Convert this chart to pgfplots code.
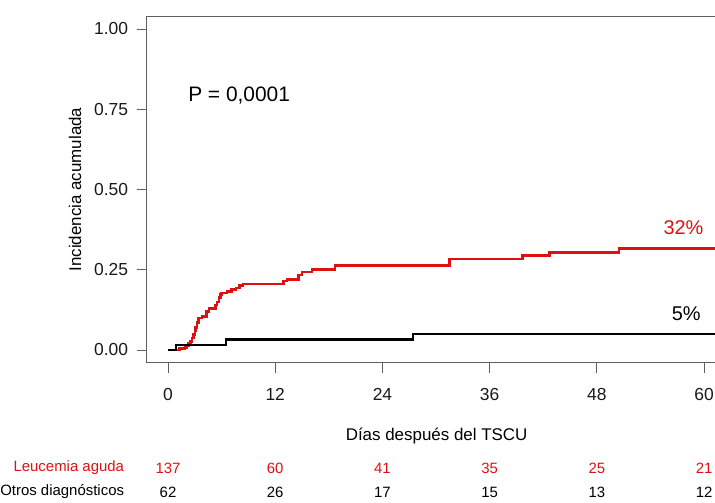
\documentclass[border=0pt]{standalone}
\usepackage{fontspec}
\setmainfont{Liberation Sans}
\usepackage{pgfplots}
\pgfplotsset{compat=1.18}
\usetikzlibrary{calc}

\definecolor{kmred}{RGB}{221,17,17}
\definecolor{boxgray}{RGB}{95,95,95}
\newcommand{\fs}[1]{\fontsize{#1}{#1}\selectfont}

\begin{document}
\begin{tikzpicture}
\begin{axis}[
    name=ax,
    scale only axis,
    width=578.9bp, height=346.7bp,
    xmin=-2.4, xmax=62.4,
    ymin=-0.04, ymax=1.04,
    xtick={0,12,24,36,48,60},
    xticklabels={0,12,24,36,48,60},
    ytick={0,0.25,0.5,0.75,1},
    yticklabels={0.00,0.25,0.50,0.75,1.00},
    xtick pos=left, ytick pos=left,
    tick align=outside,
    major tick length=10bp,
    axis line style={boxgray, line width=0.8bp},
    tick style={boxgray, line width=0.8bp},
    ticklabel style={font=\fs{17.5}, text=black!90},
    xticklabel style={anchor=center, yshift=-22bp},
    yticklabel style={anchor=east, xshift=-5bp},
    xlabel={Días después del TSCU},
    ylabel={Incidencia acumulada},
    xlabel style={font=\fs{17}, at={(axis description cs:0.501,-0.2103)}, anchor=center},
    ylabel style={font=\fs{17}, at={(axis description cs:-0.1237,0.5)}, anchor=center, rotate=0},
    clip=false,
]

% Leucemia aguda
\addplot[const plot, kmred, line width=2.6bp] coordinates {
    (0,0) (1.3,0.004) (1.9,0.008) (2.1,0.013) (2.3,0.020) (2.5,0.027)
    (2.7,0.037) (2.85,0.048) (3.0,0.060) (3.1,0.070) (3.25,0.085) (3.4,0.100)
    (3.8,0.105) (4.3,0.120) (4.6,0.130) (5.3,0.140) (5.5,0.150) (5.7,0.163)
    (5.85,0.172) (6.0,0.178) (6.6,0.183) (7.1,0.188) (7.6,0.193) (8.0,0.200)
    (8.4,0.205) (12.9,0.215) (13.3,0.220) (14.6,0.233) (15.0,0.243)
    (16.1,0.250) (18.7,0.263) (31.5,0.283) (39.7,0.294) (42.7,0.304)
    (50.5,0.316) (62.4,0.316)
};

% Otros diagnosticos
\addplot[const plot, black, line width=2.6bp] coordinates {
    (0,0) (0.9,0.016) (6.5,0.033) (27.4,0.050) (62.4,0.050)
};

\node[anchor=west, inner sep=0pt, font=\fs{21}] at (axis cs:2.24,0.793) {P = 0,0001};
\node[font=\fs{20}, text=kmred] at (axis cs:57.7,0.381) {32\%};
\node[font=\fs{20}] at (axis cs:58.0,0.113) {5\%};

% numbers at risk
\node[anchor=east, inner sep=0pt, font=\fs{15}, text=kmred] at (axis cs:-4.9,-0.3676) {Leucemia aguda};
\node[anchor=east, inner sep=0pt, font=\fs{15}] at (axis cs:-4.9,-0.4424) {Otros diagnósticos};
\node[font=\fs{15}, text=kmred] at (axis cs:0,-0.3676) {137};
\node[font=\fs{15}, text=kmred] at (axis cs:12,-0.3676) {60};
\node[font=\fs{15}, text=kmred] at (axis cs:24,-0.3676) {41};
\node[font=\fs{15}, text=kmred] at (axis cs:36,-0.3676) {35};
\node[font=\fs{15}, text=kmred] at (axis cs:48,-0.3676) {25};
\node[font=\fs{15}, text=kmred] at (axis cs:60,-0.3676) {21};
\node[font=\fs{15}] at (axis cs:0,-0.4424) {62};
\node[font=\fs{15}] at (axis cs:12,-0.4424) {26};
\node[font=\fs{15}] at (axis cs:24,-0.4424) {17};
\node[font=\fs{15}] at (axis cs:36,-0.4424) {15};
\node[font=\fs{15}] at (axis cs:48,-0.4424) {13};
\node[font=\fs{15}] at (axis cs:60,-0.4424) {12};
\end{axis}
\pgfresetboundingbox
\path[use as bounding box] ($(ax.south west)+(-146.6bp,-140.2bp)$) rectangle +(715bp,503bp);
\end{tikzpicture}
\end{document}
